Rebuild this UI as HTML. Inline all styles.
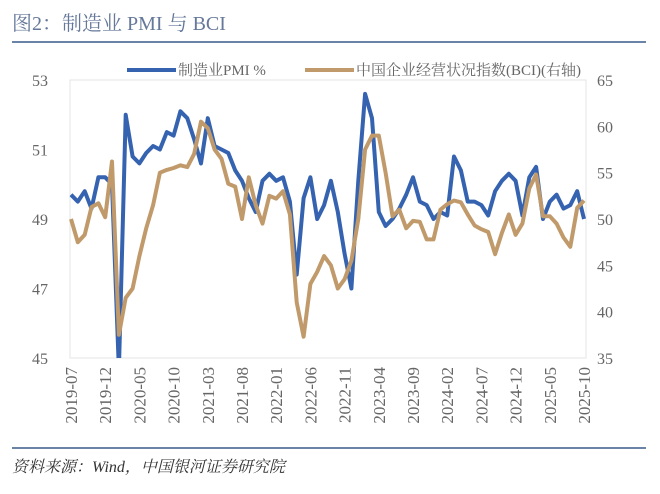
<!DOCTYPE html>
<html><head><meta charset="utf-8"><style>
body{margin:0;background:#fff;width:660px;height:494px;overflow:hidden}
svg{display:block}
</style></head><body>
<svg id="s" width="660" height="494" xmlns="http://www.w3.org/2000/svg" font-family="Liberation Serif, Noto Serif CJK SC, serif">
<text x="12" y="30" font-size="20" fill="#65789a">图2：制造业 PMI 与 BCI</text>
<line x1="12" y1="42" x2="646" y2="42" stroke="#6a84a8" stroke-width="2"/>
<line x1="12" y1="448" x2="646" y2="448" stroke="#6a84a8" stroke-width="2"/>
<text x="12" y="472" font-size="16" font-style="italic" fill="#333">资料来源：Wind，中国银河证券研究院</text>
<line x1="127" y1="70" x2="176" y2="70" stroke="#3563b0" stroke-width="4"/>
<text x="178" y="75" font-size="15" fill="#666">制造业PMI %</text>
<line x1="305" y1="70" x2="354" y2="70" stroke="#c19a6b" stroke-width="4"/>
<text x="356" y="75" font-size="15" fill="#666">中国企业经营状况指数(BCI)(右轴)</text>
<rect x="70" y="80" width="516" height="278" fill="none" stroke="#e4e4e4"/>
<g id="g"></g>
</svg>
<script>
var pmi=[49.7,49.5,49.8,49.3,50.2,50.2,50.0,35.7,52.0,50.8,50.6,50.9,51.1,51.0,51.5,51.4,52.1,51.9,51.3,50.6,51.9,51.1,51.0,50.9,50.4,50.1,49.6,49.2,50.1,50.3,50.1,50.2,49.5,47.4,49.6,50.2,49.0,49.4,50.1,49.2,48.0,47.0,50.1,52.6,51.9,49.2,48.8,49.0,49.3,49.7,50.2,49.5,49.4,49.0,49.2,49.1,50.8,50.4,49.5,49.5,49.4,49.1,49.8,50.1,50.3,50.1,49.1,50.2,50.5,49.0,49.5,49.7,49.3,49.4,49.8,49.0];
var bci=[50,47.5,48.3,51.3,51.7,50.2,56.2,37.5,41.5,42.5,46,49,51.5,55,55.3,55.5,55.8,55.6,57,60.5,59.8,57.5,56.5,53.8,53.5,50,54.5,51.5,49.5,52.5,52.2,53,50.5,41,37.3,43,44.3,46,45,42.5,43.5,45.5,50,57.5,59,59,55,50.3,51,49,49.8,49.7,47.8,47.8,51,51.6,52,51.8,50.5,49.3,48.9,48.6,46.2,48.5,50.5,48.3,49.5,53.3,54.8,50.3,50.3,49.5,48,47,51.2,52];
var x0=71,dx=(584-71)/75,g=document.getElementById('g'),h='';
function X(i){return x0+i*dx}
var p1=pmi.map(function(v,i){var y=80+(53-v)*34.75;if(y>370)y=370;return X(i).toFixed(1)+','+y.toFixed(1)}).join(' ');
var p2=bci.map(function(v,i){return X(i).toFixed(1)+','+(80+(65-v)*9.267).toFixed(1)}).join(' ');
h+='<clipPath id="c"><rect x="60" y="60" width="540" height="298"/></clipPath>';
h+='<polyline clip-path="url(#c)" points="'+p1+'" fill="none" stroke="#3563b0" stroke-width="4" stroke-linejoin="round"/>';
h+='<polyline points="'+p2+'" fill="none" stroke="#c19a6b" stroke-width="4" stroke-linejoin="round"/>';
[53,51,49,47,45].forEach(function(v){h+='<text x="48" y="'+(80+(53-v)*34.75+6)+'" font-size="16" fill="#666" text-anchor="end">'+v+'</text>'});
[65,60,55,50,45,40,35].forEach(function(v){h+='<text x="597" y="'+(80+(65-v)*9.267+6)+'" font-size="16" fill="#666">'+v+'</text>'});
for(var i=0;i<76;i+=5){var d=new Date(2019,6+i,1);var l=d.getFullYear()+'-'+('0'+(d.getMonth()+1)).slice(-2);
h+='<text transform="translate('+(X(i)+6)+',367) rotate(-90)" font-size="17" fill="#666" text-anchor="end">'+l+'</text>'}
g.innerHTML=h;
</script>
</body></html>
